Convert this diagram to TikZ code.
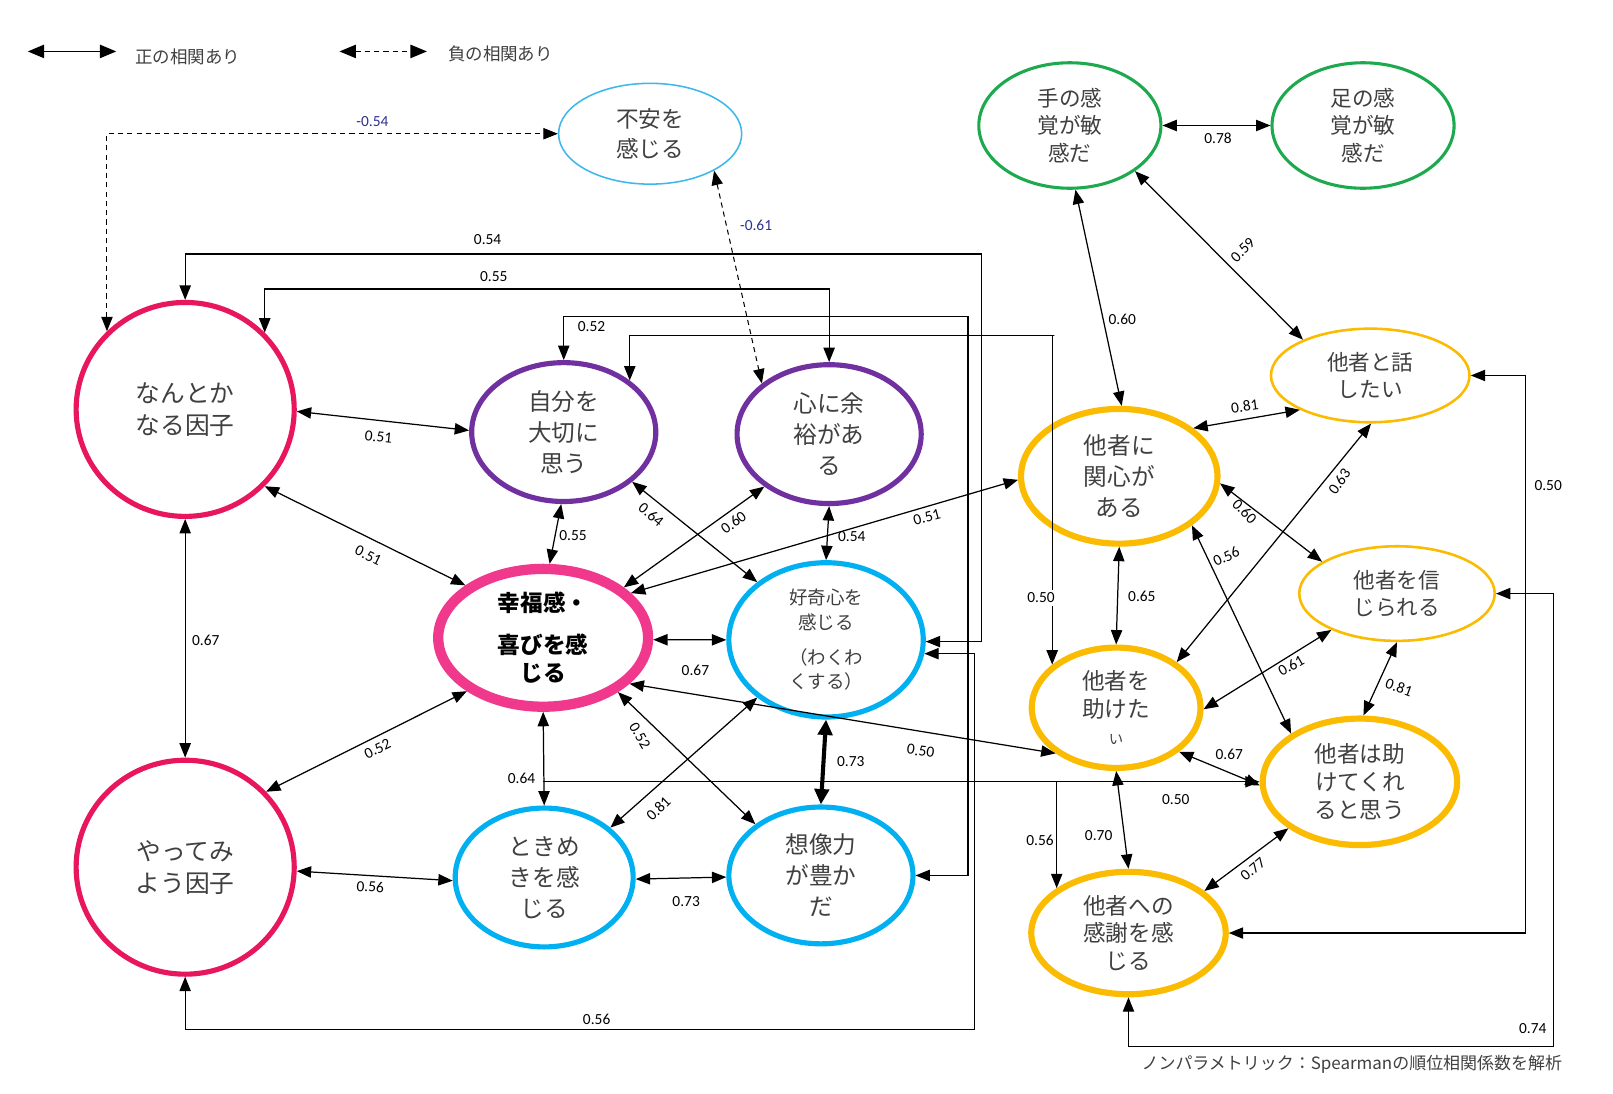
\documentclass[tikz,border=0pt]{standalone}
\usepackage{fontspec}
\setmainfont{Noto Sans CJK JP}
\newfontfamily\jp{Noto Sans CJK JP}
\newfontfamily\numf{Carlito}
\usetikzlibrary{arrows.meta,shapes.geometric}
\definecolor{crim}{HTML}{E8175D}
\definecolor{hpink}{HTML}{F0388C}
\definecolor{purp}{HTML}{7030A0}
\definecolor{sky}{HTML}{00B0F0}
\definecolor{lsky}{HTML}{3DB8EC}
\definecolor{grn}{HTML}{1DAA4F}
\definecolor{org}{HTML}{FABB00}
\definecolor{txt}{HTML}{404040}
\definecolor{negb}{HTML}{2E3192}
\tikzset{
  el/.style={ellipse, inner sep=0pt, align=center, text=txt},
  arr/.style={line width=1.2pt, >={Triangle[length=14pt,width=11pt]}, <->},
  arrE/.style={line width=1.2pt, >={Triangle[length=14pt,width=11pt]}, ->},
  legarr/.style={line width=1.5pt, >={Triangle[length=16pt,width=13pt]}, <->},
  legdarr/.style={legarr, line width=1.1pt, dash pattern=on 5pt off 4pt},
  thickarr/.style={line width=4pt, >={Triangle[length=15pt,width=14pt]}, <->},
  darr/.style={line width=1pt, dash pattern=on 5pt off 4pt, >={Triangle[length=14pt,width=11pt]}, <->},
  lbl/.style={font=\numf\fontsize{15}{15}\selectfont, inner sep=1pt},
  nlbl/.style={lbl, text=negb},
  fbig/.style={font=\jp\fontsize{24}{31}\selectfont},
  fmid/.style={font=\jp\fontsize{23}{30}\selectfont},
  fsm/.style={font=\jp\fontsize{21}{27}\selectfont},
}
\begin{document}
\begin{tikzpicture}[x=1pt,y=-1pt]
\fill[white] (0,0) rectangle (1568,1063);
\useasboundingbox (0,0) rectangle (1568,1063);

% legend
\coordinate (l1a) at (27,50);
\coordinate (l1b) at (113,50);
\coordinate (l2a) at (330,50);
\coordinate (l2b) at (415,50);
\draw[legarr] (l1a) -- (l1b);
\draw[legdarr] (l2a) -- (l2b);
\node[anchor=west, text=txt, font=\jp\fontsize{17}{17}\selectfont] (lt1) at (128,55) {正の相関あり};
\node[anchor=west, text=txt, font=\jp\fontsize{17}{17}\selectfont] (lt2) at (432,52) {負の相関あり};

% nodes
\node[el, draw=lsky, line width=1.5pt, minimum width=178pt, minimum height=98pt, font=\jp\fontsize{22}{29}\selectfont] (fuan) at (632,130) {不安を\\感じる};
\node[el, draw=grn, line width=3pt, minimum width=177pt, minimum height=122pt, fsm] (te) at (1040,122) {手の感\\覚が敏\\感だ};
\node[el, draw=grn, line width=3pt, minimum width=177pt, minimum height=122pt, fsm] (ashi) at (1325,122) {足の感\\覚が敏\\感だ};
\node[el, draw=crim, line width=5pt, minimum width=212pt, minimum height=208pt, fbig] (nantoka) at (180,398) {なんとか\\なる因子};
\node[el, draw=crim, line width=5pt, minimum width=212pt, minimum height=208pt, fbig] (yatte) at (180,843) {やってみ\\よう因子};
\node[el, draw=purp, line width=5pt, minimum width=179pt, minimum height=135pt, fmid] (jibun) at (548,420) {自分を\\大切に\\思う};
\node[el, draw=purp, line width=5pt, minimum width=179pt, minimum height=135pt, fmid] (kokoro) at (806,422) {心に余\\裕があ\\る};
\node[el, draw=hpink, line width=10pt, minimum width=204pt, minimum height=134pt, text=black, font=\jp\fontsize{22}{27}\selectfont\bfseries] (kofuku) at (528,620) {幸福感・\\[14pt]喜びを感\\じる};
\node[el, draw=sky, line width=5pt, minimum width=189pt, minimum height=150pt, font=\jp\fontsize{18}{24}\selectfont] (kouki) at (803,622) {好奇心を\\感じる\\[10pt]（わくわ\\くする）};
\node[el, draw=sky, line width=5pt, minimum width=173pt, minimum height=135pt, fmid] (tokimeki) at (529,853) {ときめ\\きを感\\じる};
\node[el, draw=sky, line width=5pt, minimum width=179pt, minimum height=133pt, fmid] (souzou) at (798,851) {想像力\\が豊か\\だ};
\node[el, draw=org, line width=6pt, minimum width=191pt, minimum height=131pt, fmid] (kanshin) at (1088,463) {他者に\\関心が\\ある};
\node[el, draw=org, line width=2.5pt, minimum width=193pt, minimum height=91pt, fsm] (hanashi) at (1332,365) {他者と話\\したい};
\node[el, draw=org, line width=2.5pt, minimum width=190pt, minimum height=92pt, fsm] (shinji) at (1358,577) {他者を信\\じられる};
\node[el, draw=org, line width=6pt, minimum width=164pt, minimum height=117pt, font=\jp\fontsize{22}{27}\selectfont] (tasuke) at (1085,688) {他者を\\助けた\\{\fontsize{14}{18}\selectfont い}};
\node[el, draw=org, line width=6pt, minimum width=189pt, minimum height=123pt, font=\jp\fontsize{22}{27}\selectfont] (tasukete) at (1322,760) {他者は助\\けてくれ\\ると思う};
\node[el, draw=org, line width=6pt, minimum width=189pt, minimum height=119pt, font=\jp\fontsize{22}{27}\selectfont] (kansha) at (1097,907) {他者への\\感謝を感\\じる};

% bend coordinates
\coordinate (c054) at (954,247);
\coordinate (c055) at (806,281);
\coordinate (c052) at (941,308);
\coordinate (c050a) at (1025,326);
\coordinate (c056) at (947,1001);
\coordinate (c050b) at (1483,365);
\coordinate (c074) at (1510,1017);

% negative (dashed)
\draw[darr] (nantoka.135) |- (fuan.west);
\draw[darr] (fuan.-30) -- (kokoro.143);

% elbow connectors
\draw[arr] (nantoka.north) |- (c054) |- (kouki.-1);
\draw[arr] (nantoka.44) |- (c055) -- (kokoro.north);
\draw[arr] (jibun.north) |- (c052) |- (souzou.east);
\draw[arr] (jibun.38) |- (c050a) -| (tasuke.146);
\draw[arr] (kouki.-8) -| (c056) -| (yatte.south);
\draw[arr] (kansha.east) -| (c050b) -- (hanashi.east);
\draw[arr] (kansha.south) |- (c074) |- (shinji.east);
\draw[arrE] (kofuku.south |- tasukete.west) -- (tasukete.west);
\draw[arrE] (kansha.148 |- tasukete.west) -- (kansha.148);

% straight connectors
\draw[arr] (nantoka.-1) -- (jibun.179);
\draw[arr] (nantoka.-44) -- (kofuku.146);
\draw[arr] (nantoka.south) -- (yatte.north);
\draw[arr] (yatte.43) -- (kofuku.215);
\draw[arr] (yatte.-2) -- (tokimeki.182);
\draw[arr] (jibun.-92) -- (kofuku.85);
\draw[arr] (jibun.-36) -- (kouki.140);
\draw[arr] (kokoro.219) -- (kofuku.32);
\draw[arr] (kokoro.south) -- (kouki.north);
\draw[arr] (kofuku.27) -- (kanshin.182);
\draw[arr] (kofuku.-1) -- (kouki.180);
\draw[arr] (kofuku.-28) -- (tasuke.217);
\draw[arr] (kofuku.-36) -- (souzou.142);
\draw[arr] (kofuku.south) -- (tokimeki.north);
\draw[arr] (kouki.220) -- (tokimeki.37);
\draw[thickarr] (kouki.south) -- (souzou.north);
\draw[arr] (tokimeki.-1) -- (souzou.181);
\draw[arr] (te.east) -- (ashi.west);
\draw[arr] (te.-85) -- (kanshin.88);
\draw[arr] (te.-35) -- (hanashi.152);
\draw[arr] (kanshin.33) -- (hanashi.206);
\draw[arr] (kanshin.-4) -- (shinji.157);
\draw[arr] (kanshin.south) -- (tasuke.north);
\draw[arr] (kanshin.-34) -- (tasukete.145);
\draw[arr] (hanashi.-89) -- (tasuke.37);
\draw[arr] (shinji.209) -- (tasuke.-1);
\draw[arr] (shinji.south) -- (tasukete.87);
\draw[arr] (tasuke.-35) -- (tasukete.182);
\draw[arr] (tasuke.south) -- (kansha.north);
\draw[arr] (tasukete.213) -- (kansha.29);

% labels
\node[nlbl] at (362,118) {-0.54};
\node[nlbl] at (735,219) {-0.61};
\node[lbl] at (474,233) {0.54};
\node[lbl] at (480,269) {0.55};
\node[lbl] at (575,317) {0.52};
\node[lbl, fill=white, inner sep=3pt] at (1012,581) {0.50};
\node[lbl] at (580,991) {0.56};
\node[lbl] at (507,757) {0.64};
\node[lbl] at (1143,777) {0.50};
\node[lbl] at (1011,817) {0.56};
\node[lbl] at (1505,472) {0.50};
\node[lbl] at (1490,1000) {0.74};
\node[lbl, rotate=-6] at (368,425) {0.51};
\node[lbl, rotate=-26] at (358,540) {0.51};
\node[lbl] at (200,622) {0.67};
\node[lbl, rotate=26] at (367,728) {0.52};
\node[lbl, rotate=-3] at (360,862) {0.56};
\node[lbl] at (557,521) {0.55};
\node[lbl, rotate=-40] at (633,500) {0.64};
\node[lbl, rotate=37] at (713,508) {0.60};
\node[lbl] at (828,522) {0.54};
\node[lbl, rotate=15] at (901,503) {0.51};
\node[lbl] at (676,652) {0.67};
\node[lbl, rotate=-8] at (895,730) {0.50};
\node[lbl, rotate=-60] at (622,715) {0.52};
\node[lbl, rotate=45] at (640,786) {0.81};
\node[lbl] at (827,740) {0.73};
\node[lbl] at (667,876) {0.73};
\node[lbl] at (1184,134) {0.78};
\node[lbl] at (1091,310) {0.60};
\node[lbl, rotate=45] at (1208,243) {0.59};
\node[lbl, rotate=8] at (1210,395) {0.81};
\node[lbl, rotate=-45] at (1210,497) {0.60};
\node[lbl, rotate=55] at (1302,468) {0.63};
\node[lbl] at (1110,580) {0.65};
\node[lbl, rotate=25] at (1192,541) {0.56};
\node[lbl, rotate=30] at (1255,647) {0.61};
\node[lbl, rotate=-20] at (1360,668) {0.81};
\node[lbl] at (1195,733) {0.67};
\node[lbl] at (1068,812) {0.70};
\node[lbl, rotate=40] at (1218,845) {0.77};

% footer
\node[anchor=east, text=txt, font=\jp\fontsize{16.5}{16.5}\selectfont] (foot) at (1522,1035) {ノンパラメトリック：Spearmanの順位相関係数を解析};
\end{tikzpicture}
\end{document}
